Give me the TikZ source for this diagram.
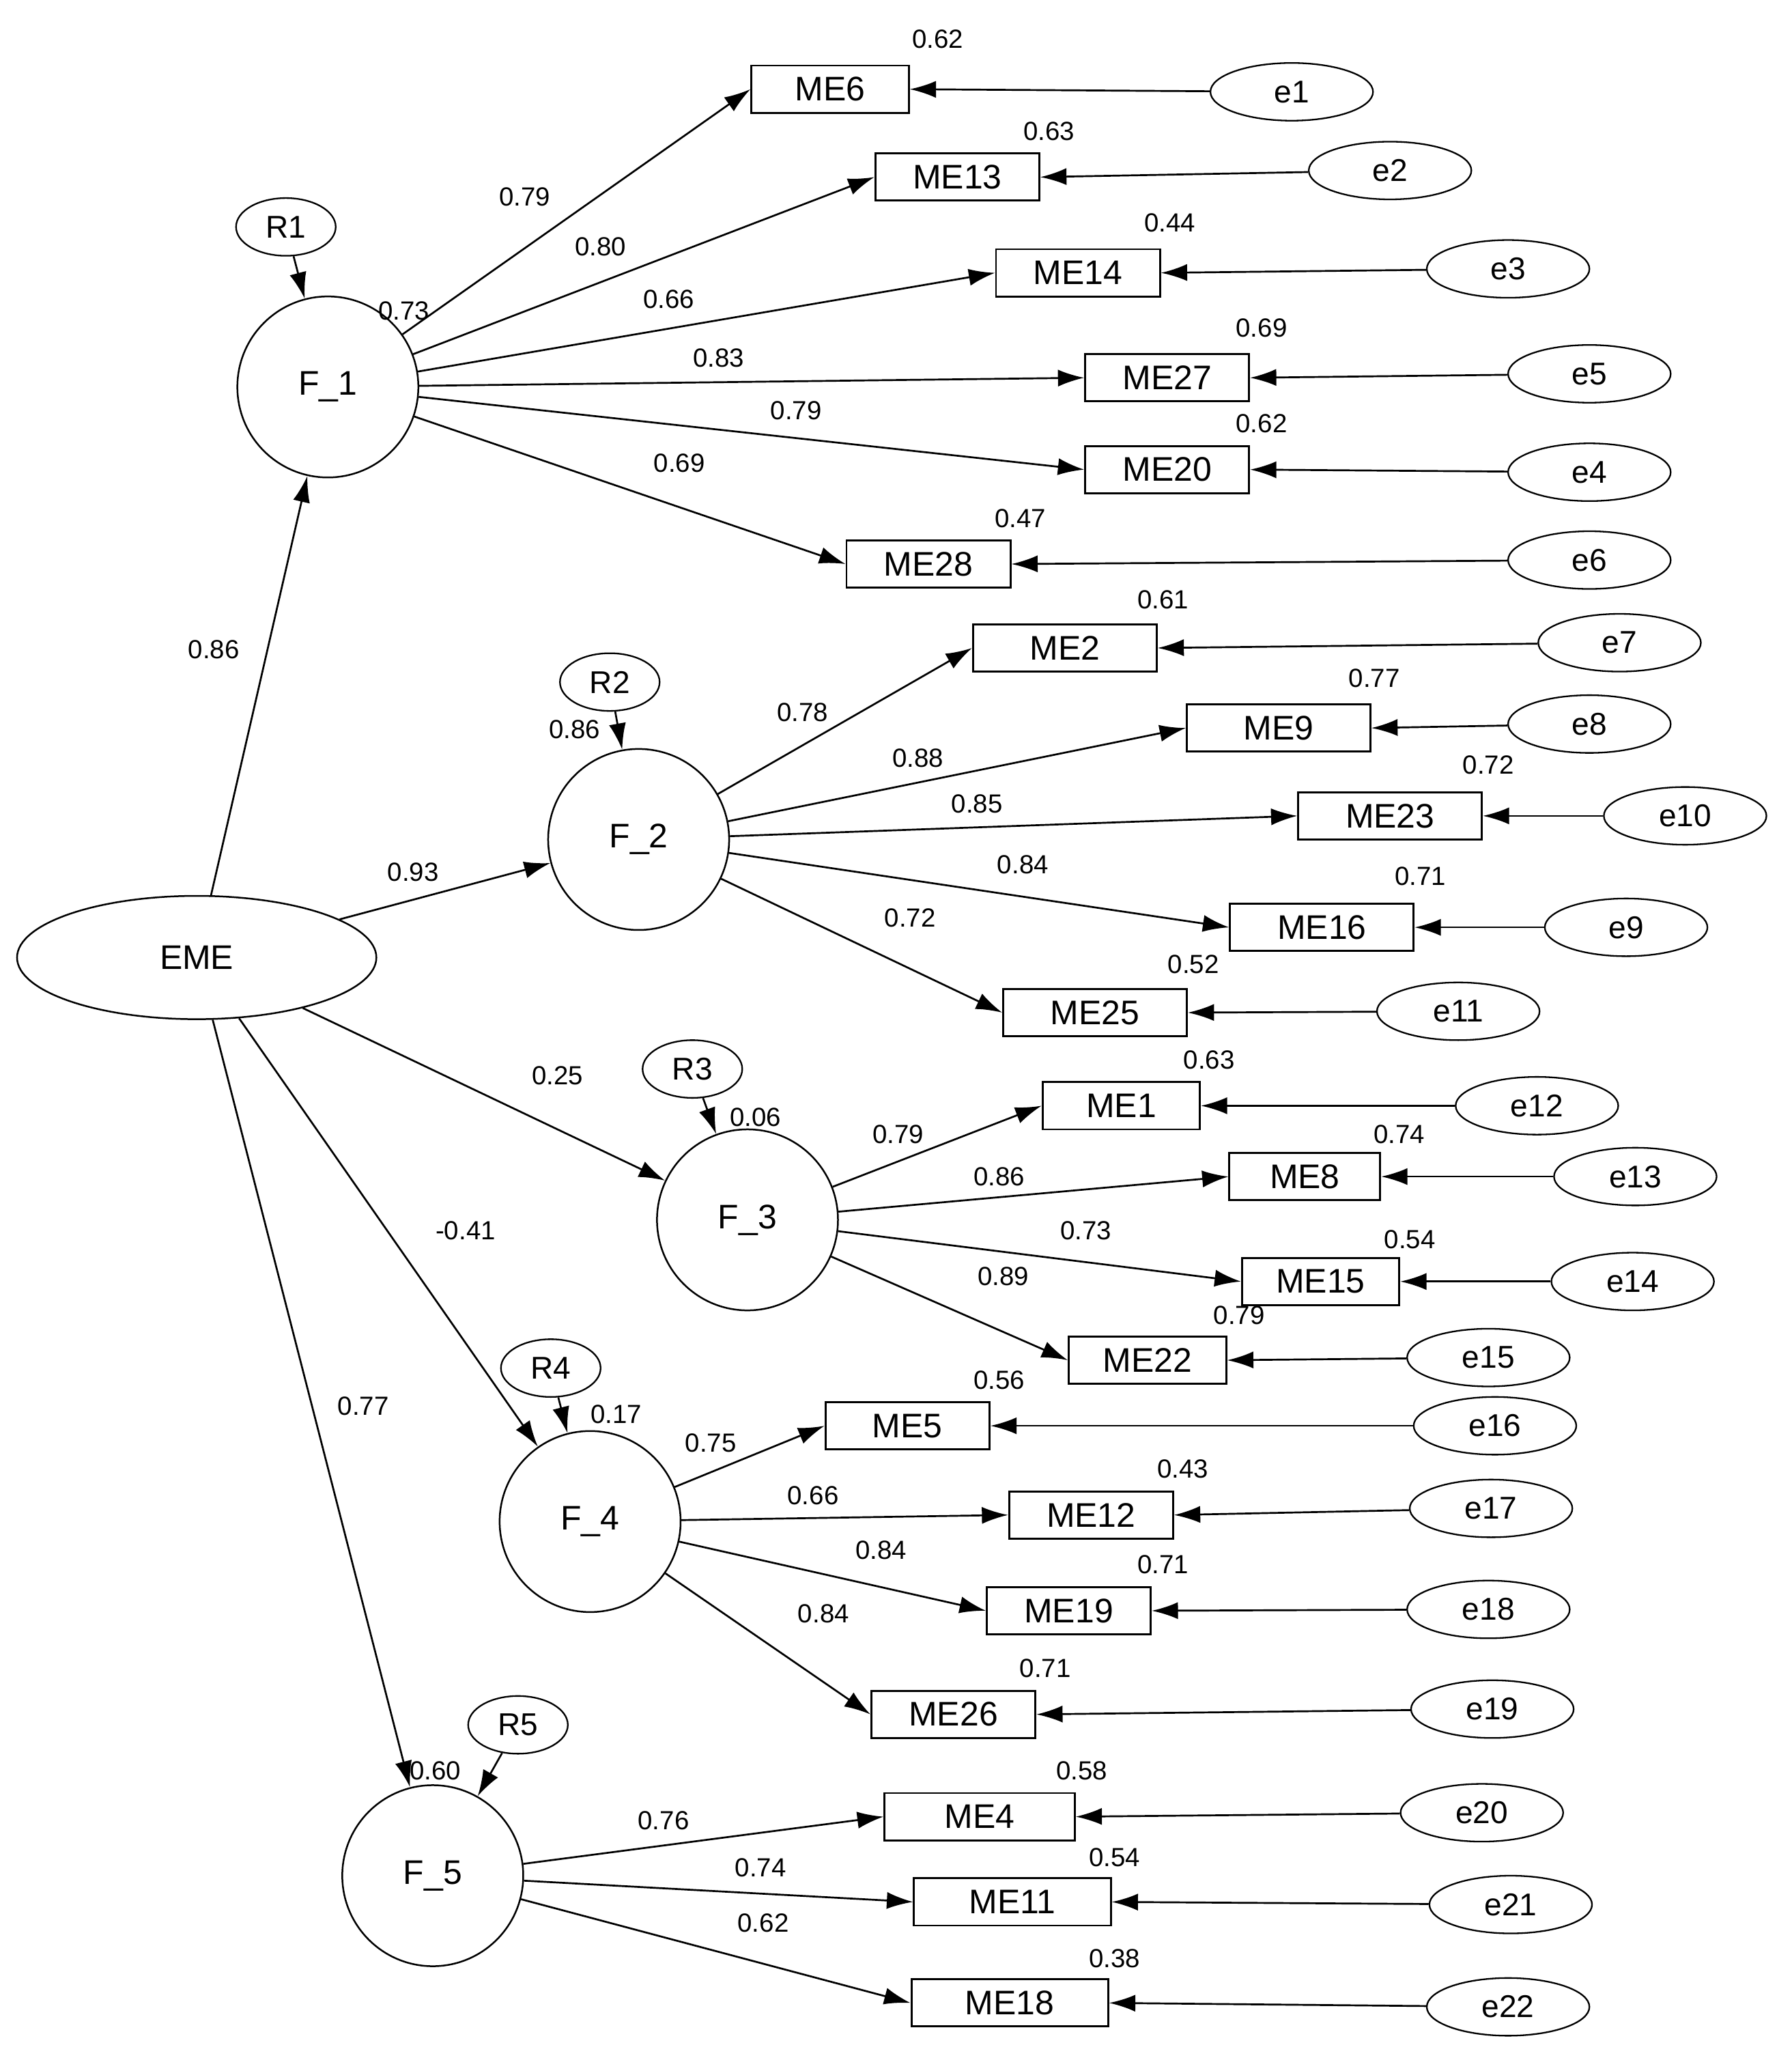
\documentclass[tikz,border=0pt]{standalone}
\usepackage{fontspec}
\setmainfont{Liberation Sans}
\usetikzlibrary{arrows.meta,shapes.geometric}
\begin{document}
\begin{tikzpicture}[x=1pt,y=-1pt,
 lat/.style={draw,circle,minimum size=138pt,inner sep=0pt,line width=1.3pt,font=\fontsize{26}{28}\selectfont},
 res/.style={draw,ellipse,minimum width=76pt,minimum height=44pt,inner sep=0pt,line width=1.2pt,font=\fontsize{24}{26}\selectfont},
 err/.style={draw,ellipse,minimum width=124pt,minimum height=44pt,inner sep=0pt,line width=1.2pt,font=\fontsize{24}{26}\selectfont},
 obs/.style={draw,rectangle,minimum height=36pt,inner sep=0pt,line width=1.5pt,font=\fontsize{26}{28}\selectfont},
 num/.style={font=\fontsize{20}{22}\selectfont,inner sep=0pt},
 arr/.style={-{Latex[length=20pt,width=13pt]},line width=1.4pt}]
\useasboundingbox (0,0) rectangle (1366,1569);
\node[draw,ellipse,minimum width=274pt,minimum height=94pt,line width=1.3pt,font=\fontsize{26}{28}\selectfont] (EME) at (150,730) {EME};
\foreach \i/\x/\y in {1/250/295,2/487/640,3/570/930,4/450/1160,5/330/1430}{
 \node[lat] (F\i) at (\x,\y) {F\_\i};
}
\node[res] (R1) at (218,173) {R1};
\node[res] (R2) at (465,520) {R2};
\node[res] (R3) at (528,815) {R3};
\node[res] (R4) at (420,1043) {R4};
\node[res] (R5) at (395,1315) {R5};
\foreach \i in {1,...,5}{\draw[arr] (R\i) -- (F\i);}
\foreach \i in {1,...,5}{\draw[arr] (EME) -- (F\i);}
\foreach \b/\x/\y/\w/\e/\ex/\ey/\f in {
ME6/633/68/120/e1/985/70/1,ME13/730/135/125/e2/1060/130/1,ME14/822/208/125/e3/1150/205/1,
ME27/890/288/125/e5/1212/285/1,ME20/890/358/125/e4/1212/360/1,ME28/708/430/125/e6/1212/427/1,
ME2/812/494/140/e7/1235/490/2,ME9/975/555/140/e8/1212/552/2,ME23/1060/622/140/e10/1285/622/2,
ME16/1008/707/140/e9/1240/707/2,ME25/835/772/140/e11/1112/771/2,
ME1/855/843/120/e12/1172/843/3,ME8/995/897/115/e13/1247/897/3,ME15/1007/977/120/e14/1245/977/3,ME22/875/1037/120/e15/1135/1035/3,
ME5/692/1087/125/e16/1140/1087/4,ME12/832/1155/125/e17/1137/1150/4,ME19/815/1228/125/e18/1135/1227/4,ME26/727/1307/125/e19/1138/1303/4,
ME4/747/1385/145/e20/1130/1382/5,ME11/772/1450/150/e21/1152/1452/5,ME18/770/1527/150/e22/1150/1530/5}{
 \node[obs,minimum width=\w pt] (\b) at (\x,\y) {\b};
 \node[err] (\e) at (\ex,\ey) {\e};
 \draw[arr] (\e) -- (\b.east);
 \draw[arr] (F\f) -- (\b.west);
}
\foreach \t/\x/\y in {0.86/163/495,0.93/315/665,0.25/425/820,-0.41/355/938,0.77/277/1072,
0.79/400/150,0.80/458/188,0.66/510/228,0.83/548/273,0.79/607/313,0.69/518/353,0.73/308/237,
0.86/438/556,0.06/576/852,0.17/470/1078,0.60/332/1350,
0.78/612/543,0.88/700/578,0.85/745/613,0.84/780/659,0.72/694/700,
0.79/685/865,0.86/762/897,0.73/828/938,0.89/765/973,
0.75/542/1100,0.66/620/1140,0.84/672/1182,0.84/628/1230,
0.76/506/1388,0.74/580/1424,0.62/582/1466,
0.62/715/30,0.63/800/100,0.44/892/170,0.69/962/250,0.62/962/323,0.47/778/395,
0.61/887/457,0.77/1048/517,0.72/1135/583,0.71/1083/668,0.52/910/735,
0.63/922/808,0.74/1067/865,0.54/1075/945,0.79/945/1003,
0.56/762/1052,0.43/902/1120,0.71/887/1193,0.71/797/1272,
0.58/825/1350,0.54/850/1416,0.38/850/1493}{\node[num] at (\x,\y) {\t};}
\end{tikzpicture}
\end{document}
